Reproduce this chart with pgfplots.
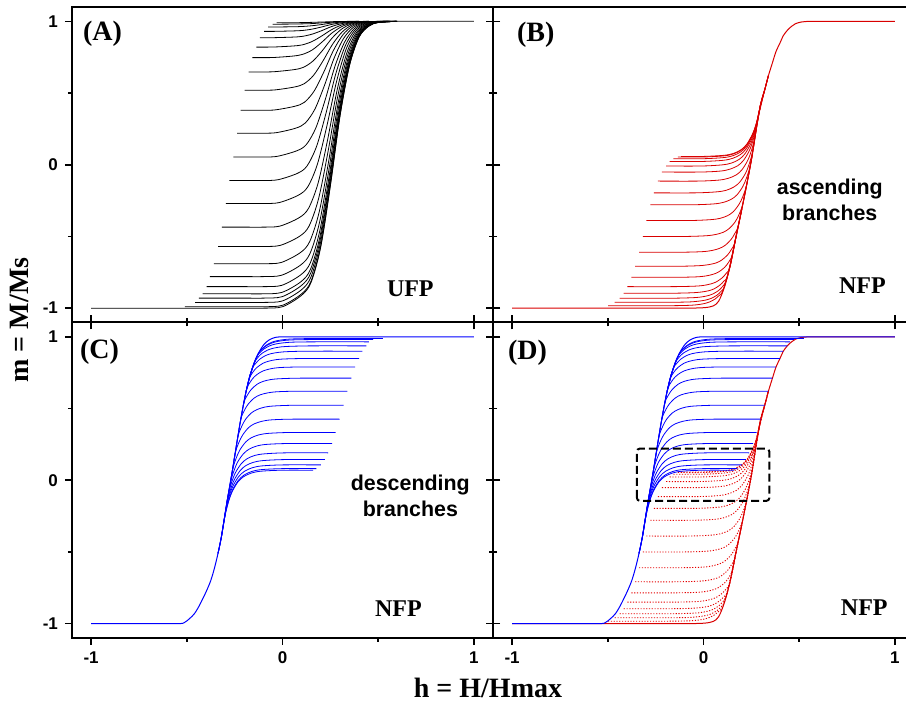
\documentclass[border=0pt]{standalone}
\usepackage{fontspec}
\setmainfont{Liberation Serif}
\setsansfont{Liberation Sans}
\usepackage{pgfplots}
\pgfplotsset{compat=1.18}

\pgfplotsset{
  panel/.style={
    scale only axis, width=210.5pt, height=157.75pt, anchor=south west,
    xmin=-1.1, xmax=1.1, ymin=-1.1, ymax=1.1,
    xtick={-1,0,1}, ytick={-1,0,1},
    minor xtick={-0.5,0.5}, minor ytick={-0.5,0.5},
    tick align=outside,
    major tick length=3.5pt, minor tick length=2pt,
    axis line style={line width=1pt},
    every tick/.style={black, line width=0.8pt},
    ticklabel style={font=\fontsize{8.5}{10}\sffamily\bfseries},
  },
  bk/.style={black, line width=0.4pt, smooth, mark=none},
  rf/.style={red!85!black, line width=0.4pt, smooth, mark=none},
  rm/.style={red!85!black, line width=0.5pt, smooth, mark=none},
  bf/.style={blue, line width=0.4pt, smooth, mark=none},
  bm/.style={blue, line width=0.5pt, smooth, mark=none},
}
\newcommand{\plab}{\fontsize{14}{16}\selectfont\bfseries}
\newcommand{\tlab}{\fontsize{12}{14}\selectfont\bfseries}
\newcommand{\slab}{\fontsize{10.7}{13}\sffamily\bfseries}

\newcommand{\redmajor}{%
\addplot[rm] coordinates {(-1,-1) (-0.3,-1) (-0.1,-1) (0,-0.997) (0.05,-0.985) (0.08,-0.95) (0.11,-0.85) (0.14,-0.70) (0.17,-0.50) (0.20,-0.31) (0.23,-0.11) (0.255,0.07) (0.278,0.27) (0.299,0.426) (0.32,0.523) (0.339,0.62) (0.36,0.71) (0.379,0.79) (0.40,0.85) (0.417,0.90) (0.438,0.937) (0.46,0.965) (0.48,0.983) (0.51,0.995) (0.56,1.0) (0.7,1) (1,1)};
}
\newcommand{\redforcs}{%
\addplot[rf] coordinates {(-0.499,-0.983) (-0.199,-0.983) (-0.089,-0.981) (-0.039,-0.977) (0.001,-0.969) (0.031,-0.957) (0.061,-0.936) (0.081,-0.913) (0.101,-0.879) (0.14,-0.70) (0.17,-0.50)};
\addplot[rf] coordinates {(-0.464,-0.959) (-0.19,-0.959) (-0.08,-0.957) (-0.03,-0.952) (0.01,-0.944) (0.04,-0.932) (0.07,-0.91) (0.09,-0.885) (0.11,-0.849) (0.14,-0.70) (0.17,-0.50)};
\addplot[rf] coordinates {(-0.438,-0.931) (-0.183,-0.931) (-0.073,-0.928) (-0.023,-0.924) (0.017,-0.915) (0.047,-0.902) (0.077,-0.879) (0.097,-0.853) (0.117,-0.814) (0.14,-0.70) (0.17,-0.50)};
\addplot[rf] coordinates {(-0.417,-0.896) (-0.174,-0.896) (-0.064,-0.893) (-0.014,-0.888) (0.026,-0.879) (0.056,-0.865) (0.086,-0.839) (0.106,-0.812) (0.126,-0.77) (0.17,-0.50) (0.20,-0.31)};
\addplot[rf] coordinates {(-0.398,-0.85) (-0.162,-0.85) (-0.052,-0.847) (-0.002,-0.842) (0.038,-0.831) (0.068,-0.816) (0.098,-0.788) (0.118,-0.758) (0.138,-0.713) (0.17,-0.50) (0.20,-0.31)};
\addplot[rf] coordinates {(-0.377,-0.785) (-0.15,-0.785) (-0.04,-0.782) (0.01,-0.776) (0.05,-0.764) (0.08,-0.747) (0.11,-0.716) (0.13,-0.682) (0.15,-0.631) (0.17,-0.50) (0.20,-0.31)};
\addplot[rf] coordinates {(-0.357,-0.708) (-0.135,-0.708) (-0.025,-0.704) (0.025,-0.697) (0.065,-0.685) (0.095,-0.665) (0.125,-0.63) (0.145,-0.592) (0.165,-0.535) (0.20,-0.31) (0.23,-0.11)};
\addplot[rf] coordinates {(-0.337,-0.61) (-0.116,-0.61) (-0.006,-0.606) (0.044,-0.598) (0.084,-0.583) (0.114,-0.561) (0.144,-0.521) (0.164,-0.478) (0.184,-0.413) (0.23,-0.11) (0.255,0.07)};
\addplot[rf] coordinates {(-0.317,-0.5) (-0.095,-0.5) (0.015,-0.495) (0.065,-0.486) (0.105,-0.47) (0.135,-0.444) (0.165,-0.399) (0.185,-0.349) (0.205,-0.275) (0.23,-0.11) (0.255,0.07)};
\addplot[rf] coordinates {(-0.299,-0.389) (-0.074,-0.389) (0.036,-0.383) (0.086,-0.374) (0.126,-0.355) (0.156,-0.327) (0.186,-0.275) (0.206,-0.22) (0.226,-0.136) (0.255,0.07) (0.278,0.27)};
\addplot[rf] coordinates {(-0.278,-0.279) (-0.055,-0.279) (0.055,-0.273) (0.105,-0.262) (0.145,-0.241) (0.175,-0.21) (0.205,-0.153) (0.225,-0.091) (0.245,0.001) (0.278,0.27) (0.299,0.426)};
\addplot[rf] coordinates {(-0.259,-0.196) (-0.041,-0.196) (0.069,-0.189) (0.119,-0.178) (0.159,-0.155) (0.189,-0.122) (0.219,-0.061) (0.239,0.006) (0.259,0.105) (0.278,0.27) (0.299,0.426)};
\addplot[rf] coordinates {(-0.238,-0.114) (-0.029,-0.114) (0.081,-0.107) (0.131,-0.094) (0.171,-0.071) (0.201,-0.035) (0.231,0.03) (0.251,0.101) (0.271,0.208) (0.299,0.426) (0.32,0.523)};
\addplot[rf] coordinates {(-0.217,-0.051) (-0.02,-0.051) (0.09,-0.044) (0.14,-0.03) (0.18,-0.006) (0.21,0.032) (0.24,0.1) (0.26,0.175) (0.28,0.286) (0.299,0.426) (0.32,0.523)};
\addplot[rf] coordinates {(-0.195,-0.009) (-0.013,-0.009) (0.097,-0.001) (0.147,0.012) (0.187,0.038) (0.217,0.077) (0.247,0.147) (0.267,0.224) (0.287,0.339) (0.32,0.523) (0.339,0.62)};
\addplot[rf] coordinates {(-0.177,0.023) (-0.007,0.023) (0.103,0.031) (0.153,0.045) (0.193,0.071) (0.223,0.111) (0.253,0.183) (0.273,0.262) (0.293,0.379) (0.32,0.523) (0.339,0.62)};
\addplot[rf] coordinates {(-0.157,0.042) (-0.004,0.042) (0.106,0.05) (0.156,0.064) (0.196,0.091) (0.226,0.131) (0.256,0.204) (0.276,0.284) (0.296,0.403) (0.32,0.523) (0.339,0.62)};
\addplot[rf] coordinates {(-0.134,0.054) (-0.002,0.054) (0.108,0.062) (0.158,0.076) (0.198,0.103) (0.228,0.144) (0.258,0.217) (0.278,0.298) (0.298,0.418) (0.32,0.523) (0.339,0.62)};
\addplot[rf] coordinates {(-0.117,0.058) (-0.001,0.058) (0.109,0.066) (0.159,0.08) (0.199,0.107) (0.229,0.148) (0.259,0.222) (0.279,0.302) (0.299,0.423) (0.32,0.523) (0.339,0.62)};
}
\newcommand{\bluemajor}{%
\addplot[bm] coordinates {(-1,-1) (-0.7,-1) (-0.54,-1) (-0.51,-0.99) (-0.486,-0.965) (-0.46,-0.93) (-0.433,-0.87) (-0.40,-0.78) (-0.375,-0.70) (-0.355,-0.61) (-0.337,-0.51) (-0.32,-0.40) (-0.305,-0.28) (-0.29,-0.15) (-0.27,0.0) (-0.253,0.14) (-0.235,0.29) (-0.22,0.41) (-0.205,0.52) (-0.19,0.62) (-0.17,0.73) (-0.145,0.83) (-0.12,0.90) (-0.095,0.95) (-0.07,0.978) (-0.045,0.993) (-0.02,0.999) (0.05,1) (0.3,1) (1,1)};
}
\newcommand{\blueforcs}{%
\addplot[bf] coordinates {(0.525,0.988) (0.175,0.988) (0.065,0.986) (0.015,0.982) (-0.025,0.974) (-0.055,0.963) (-0.085,0.942) (-0.105,0.919) (-0.125,0.885) (-0.145,0.83) (-0.17,0.73)};
\addplot[bf] coordinates {(0.473,0.981) (0.171,0.981) (0.061,0.979) (0.011,0.975) (-0.029,0.967) (-0.059,0.955) (-0.089,0.934) (-0.109,0.911) (-0.129,0.876) (-0.17,0.73) (-0.19,0.62)};
\addplot[bf] coordinates {(0.452,0.965) (0.164,0.965) (0.054,0.963) (0.004,0.958) (-0.036,0.95) (-0.066,0.938) (-0.096,0.916) (-0.116,0.892) (-0.136,0.856) (-0.17,0.73) (-0.19,0.62)};
\addplot[bf] coordinates {(0.438,0.937) (0.153,0.937) (0.043,0.934) (-0.007,0.93) (-0.047,0.921) (-0.077,0.908) (-0.107,0.885) (-0.127,0.859) (-0.147,0.821) (-0.17,0.73) (-0.19,0.62)};
\addplot[bf] coordinates {(0.417,0.9) (0.141,0.9) (0.031,0.897) (-0.019,0.892) (-0.059,0.883) (-0.089,0.869) (-0.119,0.844) (-0.139,0.816) (-0.159,0.775) (-0.19,0.62) (-0.205,0.52)};
\addplot[bf] coordinates {(0.4,0.849) (0.127,0.849) (0.017,0.846) (-0.033,0.841) (-0.073,0.83) (-0.103,0.815) (-0.133,0.787) (-0.153,0.757) (-0.173,0.711) (-0.19,0.62) (-0.205,0.52)};
\addplot[bf] coordinates {(0.379,0.79) (0.113,0.79) (0.003,0.787) (-0.047,0.781) (-0.087,0.769) (-0.117,0.752) (-0.147,0.722) (-0.167,0.688) (-0.187,0.638) (-0.205,0.52) (-0.22,0.41)};
\addplot[bf] coordinates {(0.36,0.712) (0.098,0.712) (-0.012,0.708) (-0.062,0.702) (-0.102,0.689) (-0.132,0.67) (-0.162,0.635) (-0.182,0.597) (-0.202,0.54) (-0.22,0.41) (-0.235,0.29)};
\addplot[bf] coordinates {(0.339,0.621) (0.082,0.621) (-0.028,0.617) (-0.078,0.609) (-0.118,0.595) (-0.148,0.573) (-0.178,0.533) (-0.198,0.49) (-0.218,0.426) (-0.235,0.29) (-0.253,0.14)};
\addplot[bf] coordinates {(0.32,0.523) (0.067,0.523) (-0.043,0.518) (-0.093,0.51) (-0.133,0.493) (-0.163,0.469) (-0.193,0.425) (-0.213,0.376) (-0.233,0.304) (-0.253,0.14) (-0.27,0.0)};
\addplot[bf] coordinates {(0.299,0.426) (0.052,0.426) (-0.058,0.421) (-0.108,0.411) (-0.148,0.393) (-0.178,0.366) (-0.208,0.316) (-0.228,0.263) (-0.248,0.183) (-0.27,0.0) (-0.29,-0.15)};
\addplot[bf] coordinates {(0.278,0.333) (0.038,0.333) (-0.072,0.327) (-0.122,0.317) (-0.162,0.297) (-0.192,0.267) (-0.222,0.213) (-0.242,0.154) (-0.262,0.066) (-0.29,-0.15) (-0.305,-0.28)};
\addplot[bf] coordinates {(0.259,0.256) (0.026,0.256) (-0.084,0.25) (-0.134,0.239) (-0.174,0.217) (-0.204,0.185) (-0.234,0.128) (-0.254,0.064) (-0.274,-0.03) (-0.305,-0.28) (-0.32,-0.40)};
\addplot[bf] coordinates {(0.238,0.191) (0.015,0.191) (-0.095,0.184) (-0.145,0.173) (-0.185,0.15) (-0.215,0.116) (-0.245,0.055) (-0.265,-0.011) (-0.285,-0.111) (-0.305,-0.28) (-0.32,-0.40)};
\addplot[bf] coordinates {(0.221,0.144) (0.008,0.144) (-0.102,0.137) (-0.152,0.125) (-0.192,0.102) (-0.222,0.066) (-0.252,0.003) (-0.272,-0.066) (-0.292,-0.17) (-0.32,-0.40) (-0.337,-0.51)};
\addplot[bf] coordinates {(0.2,0.107) (0.002,0.107) (-0.108,0.1) (-0.158,0.087) (-0.198,0.063) (-0.228,0.027) (-0.258,-0.038) (-0.278,-0.109) (-0.298,-0.216) (-0.32,-0.40) (-0.337,-0.51)};
\addplot[bf] coordinates {(0.177,0.081) (-0.001,0.081) (-0.111,0.074) (-0.161,0.061) (-0.201,0.036) (-0.231,-0.001) (-0.261,-0.067) (-0.281,-0.14) (-0.301,-0.249) (-0.32,-0.40) (-0.337,-0.51)};
\addplot[bf] coordinates {(0.16,0.07) (-0.003,0.07) (-0.113,0.063) (-0.163,0.05) (-0.203,0.025) (-0.233,-0.012) (-0.263,-0.08) (-0.283,-0.153) (-0.303,-0.263) (-0.32,-0.40) (-0.337,-0.51)};
}

\begin{document}
\begin{tikzpicture}
\useasboundingbox (-36pt,-31.5pt) rectangle (417pt,319pt);
\clip (-36pt,-31.5pt) rectangle (417pt,319pt);

% ---------------- (A) ----------------
\begin{axis}[panel, at={(0pt,157.75pt)},
  xtick pos=left, ytick pos=both, xticklabels={}, yticklabels={-1,0,1}]
\addplot[bk] coordinates {(-1,-1) (-0.2,-1) (-0.1,-1) (0,-0.99) (0.1,-0.91) (0.15,-0.818) (0.2,-0.572) (0.25,-0.148) (0.3,0.336) (0.35,0.692) (0.4,0.89) (0.45,0.966) (0.5,0.992) (0.6,1) (1,1)};
\addplot[bk] coordinates {(-0.51,-0.99) (-0.2,-0.99) (-0.1,-0.99) (0,-0.98) (0.1,-0.9) (0.15,-0.809) (0.2,-0.564) (0.25,-0.142) (0.3,0.339) (0.35,0.694) (0.4,0.891) (0.45,0.966) (0.5,0.992) (0.6,1)};
\addplot[bk] coordinates {(-0.457,-0.96) (-0.2,-0.96) (-0.1,-0.96) (-0.001,-0.95) (0.099,-0.872) (0.149,-0.782) (0.199,-0.541) (0.249,-0.125) (0.299,0.349) (0.349,0.698) (0.399,0.892) (0.449,0.967) (0.499,0.992) (0.599,1)};
\addplot[bk] coordinates {(-0.437,-0.93) (-0.2,-0.93) (-0.1,-0.93) (-0.002,-0.92) (0.098,-0.843) (0.148,-0.754) (0.198,-0.517) (0.248,-0.108) (0.298,0.359) (0.348,0.703) (0.398,0.894) (0.448,0.967) (0.498,0.992) (0.598,1)};
\addplot[bk] coordinates {(-0.417,-0.9) (-0.2,-0.9) (-0.1,-0.9) (-0.003,-0.89) (0.097,-0.815) (0.147,-0.727) (0.197,-0.493) (0.247,-0.091) (0.297,0.369) (0.347,0.707) (0.397,0.896) (0.447,0.968) (0.497,0.992) (0.597,1)};
\addplot[bk] coordinates {(-0.397,-0.85) (-0.2,-0.85) (-0.1,-0.85) (-0.004,-0.841) (0.096,-0.767) (0.146,-0.682) (0.196,-0.454) (0.246,-0.062) (0.296,0.386) (0.346,0.715) (0.396,0.898) (0.446,0.969) (0.496,0.993) (0.596,1)};
\addplot[bk] coordinates {(-0.379,-0.78) (-0.2,-0.78) (-0.1,-0.78) (-0.006,-0.771) (0.094,-0.7) (0.144,-0.618) (0.194,-0.399) (0.244,-0.022) (0.294,0.409) (0.344,0.726) (0.394,0.902) (0.444,0.97) (0.494,0.993) (0.594,1)};
\addplot[bk] coordinates {(-0.358,-0.69) (-0.2,-0.69) (-0.1,-0.69) (-0.008,-0.682) (0.092,-0.614) (0.142,-0.536) (0.192,-0.328) (0.242,0.03) (0.292,0.439) (0.342,0.74) (0.392,0.907) (0.442,0.971) (0.492,0.993) (0.592,1)};
\addplot[bk] coordinates {(-0.337,-0.57) (-0.2,-0.57) (-0.1,-0.57) (-0.011,-0.562) (0.089,-0.499) (0.139,-0.427) (0.189,-0.234) (0.239,0.099) (0.289,0.479) (0.339,0.758) (0.389,0.914) (0.439,0.973) (0.489,0.994) (0.589,1)};
\addplot[bk] coordinates {(-0.317,-0.435) (-0.2,-0.435) (-0.1,-0.435) (-0.014,-0.428) (0.086,-0.37) (0.136,-0.304) (0.186,-0.128) (0.236,0.176) (0.286,0.524) (0.336,0.779) (0.386,0.921) (0.436,0.976) (0.486,0.994) (0.586,1)};
\addplot[bk] coordinates {(-0.296,-0.27) (-0.2,-0.27) (-0.1,-0.27) (-0.018,-0.264) (0.082,-0.213) (0.132,-0.154) (0.182,0.002) (0.232,0.271) (0.282,0.578) (0.332,0.804) (0.382,0.93) (0.432,0.978) (0.482,0.995) (0.582,1)};
\addplot[bk] coordinates {(-0.278,-0.11) (-0.2,-0.11) (-0.1,-0.11) (-0.022,-0.104) (0.078,-0.06) (0.128,-0.009) (0.178,0.128) (0.228,0.363) (0.278,0.632) (0.328,0.829) (0.378,0.939) (0.428,0.981) (0.478,0.996) (0.578,1)};
\addplot[bk] coordinates {(-0.257,0.054) (-0.1,0.054) (-0.026,0.059) (0.074,0.097) (0.124,0.14) (0.174,0.256) (0.224,0.457) (0.274,0.686) (0.324,0.854) (0.374,0.948) (0.424,0.984) (0.474,0.996) (0.574,1)};
\addplot[bk] coordinates {(-0.237,0.22) (-0.1,0.22) (-0.031,0.224) (0.069,0.255) (0.119,0.291) (0.169,0.387) (0.219,0.552) (0.269,0.741) (0.319,0.88) (0.369,0.957) (0.419,0.987) (0.469,0.997) (0.569,1)};
\addplot[bk] coordinates {(-0.219,0.38) (-0.1,0.38) (-0.035,0.383) (0.065,0.408) (0.115,0.436) (0.165,0.513) (0.215,0.644) (0.265,0.794) (0.315,0.905) (0.365,0.966) (0.415,0.99) (0.465,0.998) (0.565,1)};
\addplot[bk] coordinates {(-0.198,0.52) (-0.1,0.52) (-0.038,0.522) (0.062,0.542) (0.112,0.564) (0.162,0.623) (0.212,0.725) (0.262,0.841) (0.312,0.926) (0.362,0.974) (0.412,0.992) (0.462,0.998) (0.562,1)};
\addplot[bk] coordinates {(-0.177,0.647) (-0.1,0.647) (-0.041,0.649) (0.059,0.663) (0.109,0.679) (0.159,0.723) (0.209,0.797) (0.259,0.883) (0.309,0.946) (0.359,0.981) (0.409,0.994) (0.459,0.999) (0.559,1)};
\addplot[bk] coordinates {(-0.157,0.747) (-0.1,0.747) (-0.044,0.748) (0.056,0.758) (0.106,0.77) (0.156,0.801) (0.206,0.855) (0.256,0.916) (0.306,0.961) (0.356,0.986) (0.406,0.996) (0.456,0.999) (0.556,1)};
\addplot[bk] coordinates {(-0.136,0.82) (-0.046,0.821) (0.054,0.828) (0.104,0.836) (0.154,0.859) (0.204,0.897) (0.254,0.94) (0.304,0.972) (0.354,0.99) (0.404,0.997) (0.554,1)};
\addplot[bk] coordinates {(-0.118,0.885) (-0.047,0.886) (0.053,0.89) (0.103,0.895) (0.153,0.91) (0.203,0.934) (0.253,0.962) (0.303,0.982) (0.353,0.994) (0.403,0.998) (0.553,1)};
\addplot[bk] coordinates {(-0.096,0.93) (-0.048,0.93) (0.052,0.933) (0.102,0.936) (0.152,0.945) (0.202,0.96) (0.252,0.977) (0.302,0.989) (0.352,0.996) (0.452,1)};
\addplot[bk] coordinates {(-0.075,0.96) (0.051,0.962) (0.101,0.964) (0.151,0.969) (0.201,0.977) (0.251,0.987) (0.301,0.994) (0.351,0.998) (0.451,1)};
\addplot[bk] coordinates {(-0.052,0.98) (0.05,0.981) (0.15,0.984) (0.2,0.989) (0.25,0.993) (0.3,0.997) (0.4,1)};
\addplot[bk] coordinates {(-0.031,0.99) (0.1,0.991) (0.2,0.995) (0.3,0.999) (0.4,1)};
\node[anchor=west, inner sep=0pt, font=\plab] at (axis cs:-1.044,0.916) {(A)};
\node[inner sep=0pt, font=\tlab] at (axis cs:0.668,-0.867) {UFP};
\end{axis}

% ---------------- (B) ----------------
\begin{axis}[panel, at={(210.5pt,157.75pt)},
  xtick pos=left, ytick pos=left, xticklabels={}, yticklabels={}]
\redmajor
\redforcs
\node[anchor=west, inner sep=0pt, font=\plab] at (axis cs:-0.976,0.909) {(B)};
\node[inner sep=0pt, font=\tlab] at (axis cs:0.83,-0.846) {NFP};
\node[inner sep=0pt, font=\slab, align=center] at (axis cs:0.66,-0.248) {ascending\\branches};
\end{axis}

% ---------------- (C) ----------------
\begin{axis}[panel, at={(0pt,0pt)},
  xtick pos=both, ytick pos=both, xticklabels={-1,0,1}, yticklabels={-1,0,1}]
\bluemajor
\blueforcs
\node[anchor=west, inner sep=0pt, font=\plab] at (axis cs:-1.06,0.895) {(C)};
\node[inner sep=0pt, font=\tlab] at (axis cs:0.606,-0.895) {NFP};
\node[inner sep=0pt, font=\slab, align=center] at (axis cs:0.668,-0.11) {descending\\branches};
\end{axis}

% ---------------- (D) ----------------
\begin{axis}[panel, at={(210.5pt,0pt)},
  xtick pos=both, ytick pos=left, xticklabels={-1,0,1}, yticklabels={},
  rf/.style={red!90!black, line width=0.45pt, smooth, mark=none, dash pattern=on 0.6pt off 0.8pt}]
\redforcs
\redmajor
\blueforcs
\bluemajor
\draw[black, line width=1pt, dash pattern=on 4pt off 2pt, rounded corners=1.5pt]
  (axis cs:-0.348,-0.144) rectangle (axis cs:0.344,0.221);
\node[anchor=west, inner sep=0pt, font=\plab] at (axis cs:-1.023,0.888) {(D)};
\node[inner sep=0pt, font=\tlab] at (axis cs:0.84,-0.888) {NFP};
\end{axis}

\node[rotate=90, font=\fontsize{14}{16}\selectfont\bfseries] at (-26.5pt,159pt) {m = M/Ms};
\node[font=\fontsize{14}{16}\selectfont\bfseries] at (208pt,-25pt) {h = H/Hmax};
\end{tikzpicture}
\end{document}
